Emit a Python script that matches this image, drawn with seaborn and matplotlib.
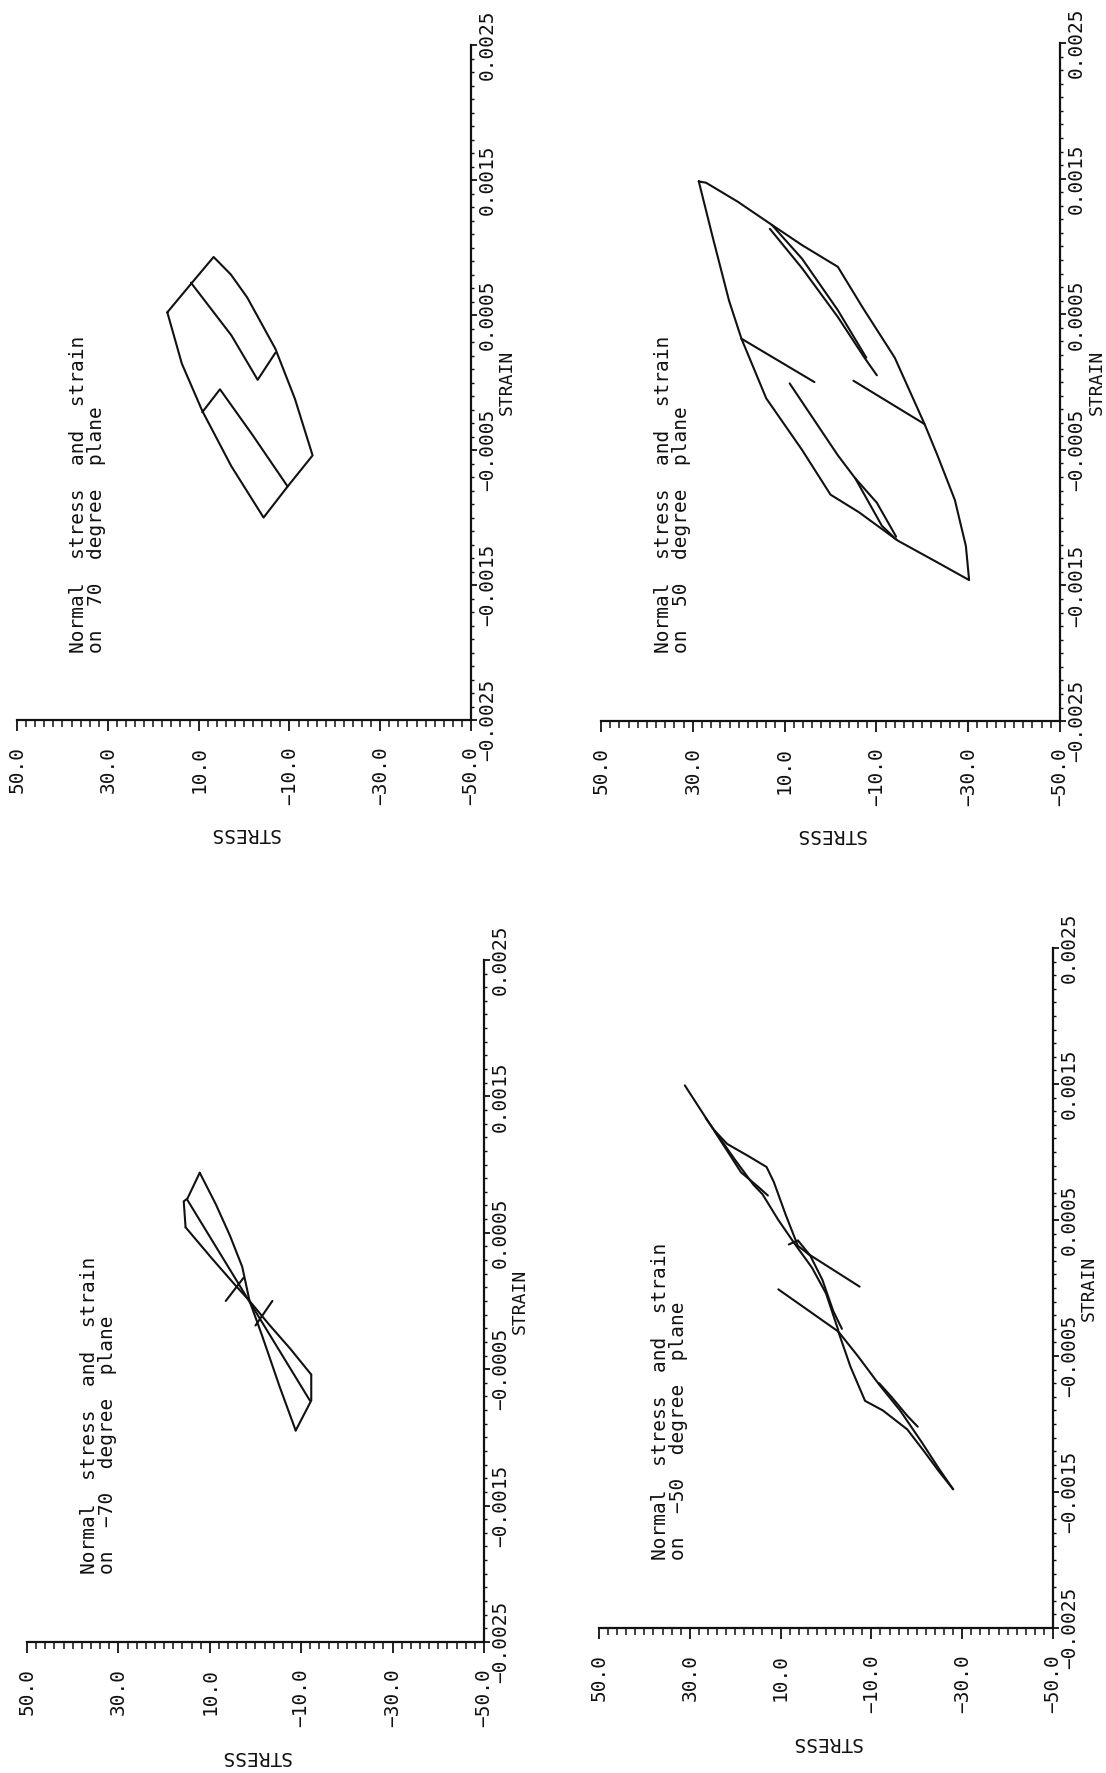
import matplotlib; matplotlib.use('Agg')
import pandas as pd
import numpy as np
import seaborn as sns
import matplotlib.pyplot as plt
from matplotlib.ticker import MultipleLocator

sns.set_style('white')
plt.rcParams['font.family'] = ['DejaVu Sans Mono', 'DejaVu Sans']

# axis ticks shared by all four panels
stress_ticks = [50, 30, 10, -10, -30, -50]
stress_labels = ['50.0', '30.0', '10.0', '\u221210.0', '\u221230.0', '\u221250.0']
strain_ticks = [-0.0025, -0.0015, -0.0005, 0.0005, 0.0015, 0.0025]
strain_labels = ['\u22120.0025', '\u22120.0015', '\u22120.0005', '0.0005', '0.0015', '0.0025']

# ---- 70 degree plane ----
p70_outer_stress = [16.9, 11.7, 6.7, 2.9, -0.7, -6.9, -11.2, -15.1, -9.6, -4.3, 2.8, 9.2, 13.7, 16.9]
p70_outer_strain = [0.00052, 0.00073, 0.00093, 0.00080, 0.00063, 0.00025, -0.00012, -0.00054,
                    -0.00077, -0.00100, -0.00062, -0.00021, 0.00014, 0.00052]
p70_up_stress = [11.7, 2.8, -3.0, -6.9]
p70_up_strain = [0.00074, 0.00035, 0.00002, 0.00022]
p70_low_stress = [-9.6, -1.9, 5.3, 9.2]
p70_low_strain = [-0.00077, -0.00039, -0.00005, -0.00022]

# ---- 50 degree plane ----
p50_outer_stress = [28.7, 27.1, 20.2, 12.8, 6.2, -1.6, -7.0, -14.0, -20.5, -23.3, -27.1, -29.5,
                    -30.2, -23.3, -14.7, -6.2, 0.0, 6.2, 14.0, 19.4, 22.1, 25.6, 28.7]
p50_outer_strain = [0.00148, 0.00147, 0.00133, 0.00116, 0.00101, 0.00085, 0.00055, 0.00018,
                    -0.00031, -0.00054, -0.00087, -0.00121, -0.00146, -0.00133, -0.00117,
                    -0.00096, -0.00083, -0.00050, -0.00012, 0.00032, 0.00060, 0.00106, 0.00148]
p50_l1_stress = [19.4, 3.5]
p50_l1_strain = [0.00032, 0.0]
p50_l2_stress = [8.9, -1.6, -5.4, -10.1, -14.3]
p50_l2_strain = [-0.00001, -0.00054, -0.00071, -0.00089, -0.00114]
p50_l2b_stress = [-5.4, -11.2, -14.3]
p50_l2b_strain = [-0.00071, -0.00106, -0.00116]
p50_l3_stress = [-20.5, -5.0]
p50_l3_strain = [-0.00031, 0.00001]
p50_l4_stress = [12.8, 6.2, -1.6, -7.8]
p50_l4_strain = [0.00116, 0.00091, 0.00053, 0.00018]
p50_l4b_stress = [13.2, 6.2, -1.6, -7.4, -10.1]
p50_l4b_strain = [0.00113, 0.00084, 0.00048, 0.00018, 0.00005]

# ---- -70 degree plane ----
m70_u_stress = [12.2, 8.7, 5.6, 2.9, 1.3, -1.4, -5.3, -8.8]
m70_u_strain = [0.00094, 0.00071, 0.00048, 0.00025, 0.0, -0.00025, -0.00063, -0.00095]
m70_v_stress = [15.3, 9.5, 4.8, 1.3, -2.9, -7.6, -12.2]
m70_v_strain = [0.00054, 0.00031, 0.00013, 0.0, -0.00017, -0.00035, -0.00054]
m70_top_stress = [12.2, 14.9, 15.7, 15.3]
m70_top_strain = [0.00094, 0.00075, 0.00073, 0.00054]
m70_bot_stress = [-12.2, -12.2, -8.8]
m70_bot_strain = [-0.00054, -0.00073, -0.00095]
m70_mid_stress = [14.9, -11.9]
m70_mid_strain = [0.00074, -0.00073]
m70_t1_stress = [6.5, 2.6]
m70_t1_strain = [0.0, 0.00017]
m70_t2_stress = [0.0, -3.7]
m70_t2_strain = [-0.00018, 0.0]

# ---- -50 degree plane ----
m50_b1_stress = [31.1, 24.9, 21.8, 17.1, 13.1, 11.5, 8.9, 6.2, 3.5, 0.8, -1.6, -3.5]
m50_b1_strain = [0.00149, 0.00117, 0.00106, 0.00097, 0.00089, 0.00078, 0.00054, 0.00031,
                 0.00024, 0.00006, -0.00017, -0.00030]
m50_b2_stress = [26.5, 20.2, 16.0, 14.0, 10.5, 7.0, 3.1, 0.0, -2.7]
m50_b2_strain = [0.00125, 0.00095, 0.00076, 0.00069, 0.00050, 0.00033, 0.00015, -0.00004, -0.00031]
m50_b3_stress = [24.7, 18.7, 14.8, 12.8]
m50_b3_strain = [0.00116, 0.00085, 0.00074, 0.00068]
m50_b4_stress = [3.9, -7.4]
m50_b4_strain = [0.00025, 0.00001]
m50_b5_stress = [10.5, -2.7]
m50_b5_strain = [-0.00001, -0.00032]
m50_b6_stress = [-2.7, -5.4, -8.6, -12.5, -17.9, -21.8, -24.9, -28.0]
m50_b6_strain = [-0.00032, -0.00058, -0.00083, -0.00090, -0.00104, -0.00121, -0.00135, -0.00148]
m50_b7_stress = [-2.7, -7.0, -11.7, -16.3, -21.0, -24.9, -28.0]
m50_b7_strain = [-0.00032, -0.00050, -0.00071, -0.00090, -0.00113, -0.00133, -0.00148]
m50_b8_stress = [-11.7, -14.4, -17.9, -20.2]
m50_b8_strain = [-0.00070, -0.00080, -0.00094, -0.00102]
m50_b9_stress = [8.2, 6.2, 3.5]
m50_b9_strain = [0.00032, 0.00035, 0.00024]

panels = [
    # (axes rect in figure fraction, title, segments)
    ([0.0154, 0.5939, 0.4105, 0.3807], 'Normal  stress  and  strain\non  70  degree  plane',
     [(p70_outer_stress, p70_outer_strain), (p70_up_stress, p70_up_strain),
      (p70_low_stress, p70_low_strain)]),
    ([0.5434, 0.5933, 0.4150, 0.3824], 'Normal  stress  and  strain\non  50  degree  plane',
     [(p50_outer_stress, p50_outer_strain), (p50_l1_stress, p50_l1_strain),
      (p50_l2_stress, p50_l2_strain), (p50_l2b_stress, p50_l2b_strain),
      (p50_l3_stress, p50_l3_strain), (p50_l4_stress, p50_l4_strain),
      (p50_l4b_stress, p50_l4b_strain)]),
    ([0.0244, 0.0739, 0.4132, 0.3847], 'Normal  stress  and  strain\non  \u221270  degree  plane',
     [(m70_u_stress, m70_u_strain), (m70_v_stress, m70_v_strain),
      (m70_top_stress, m70_top_strain), (m70_bot_stress, m70_bot_strain),
      (m70_mid_stress, m70_mid_strain), (m70_t1_stress, m70_t1_strain),
      (m70_t2_stress, m70_t2_strain)]),
    ([0.5416, 0.0818, 0.4105, 0.3835], 'Normal  stress  and  strain\non  \u221250  degree  plane',
     [(m50_b1_stress, m50_b1_strain), (m50_b2_stress, m50_b2_strain),
      (m50_b3_stress, m50_b3_strain), (m50_b4_stress, m50_b4_strain),
      (m50_b5_stress, m50_b5_strain), (m50_b6_stress, m50_b6_strain),
      (m50_b7_stress, m50_b7_strain), (m50_b8_stress, m50_b8_strain),
      (m50_b9_stress, m50_b9_strain)]),
]

fig = plt.figure(figsize=(11.06, 17.73), dpi=100)
fs = 14
ink = '#111111'

for rect, title, segs in panels:
    ax = fig.add_axes(rect)
    frames = []
    for i, (st, sn) in enumerate(segs):
        frames.append(pd.DataFrame({'stress': st, 'strain': sn, 'seg': i}))
    df = pd.concat(frames, ignore_index=True)
    sns.lineplot(data=df, x='stress', y='strain', units='seg', estimator=None,
                 sort=False, color=ink, lw=1.5, ax=ax)

    ax.set_xlim(50, -50)
    ax.set_ylim(-0.0025, 0.0025)
    ax.set_facecolor('white')
    for side in ['top', 'left']:
        ax.spines[side].set_visible(False)
    for side in ['bottom', 'right']:
        ax.spines[side].set_linewidth(1.6)
        ax.spines[side].set_color(ink)

    ax.yaxis.tick_right()
    ax.yaxis.set_label_position('right')

    ax.set_xticks(stress_ticks)
    ax.set_xticklabels(stress_labels, rotation=90, fontsize=fs)
    ax.xaxis.set_minor_locator(MultipleLocator(2))
    ax.set_yticks(strain_ticks)
    ax.set_yticklabels(strain_labels, rotation=90, va='center', fontsize=fs)
    ax.yaxis.set_minor_locator(MultipleLocator(0.0001))

    ax.tick_params(axis='x', which='major', direction='out', length=8, width=1.3, pad=11,
                   bottom=True, colors=ink)
    ax.tick_params(axis='x', which='minor', direction='out', length=5, width=1.1, bottom=True,
                   colors=ink)
    ax.tick_params(axis='y', which='major', direction='out', length=4, width=1.3, pad=1,
                   right=True, left=False, colors=ink)
    ax.tick_params(axis='y', which='minor', direction='out', length=2.5, width=1.0,
                   right=True, left=False, colors=ink)

    ax.set_xlabel('STRESS', rotation=180, fontsize=fs, color=ink)
    ax.xaxis.set_label_coords(0.5, -0.154)
    ax.set_ylabel('STRAIN', rotation=90, rotation_mode='anchor', ha='center', va='baseline',
                  fontsize=fs - 1, color=ink)
    ax.yaxis.set_label_coords(1.09, 0.5)

    ax.text(38.5, -0.002, title, rotation=90, rotation_mode='anchor', ha='left', va='top',
            fontsize=fs, linespacing=0.95, color=ink)

fig.savefig('out.png', dpi=100, facecolor='white')
plt.close(fig)
